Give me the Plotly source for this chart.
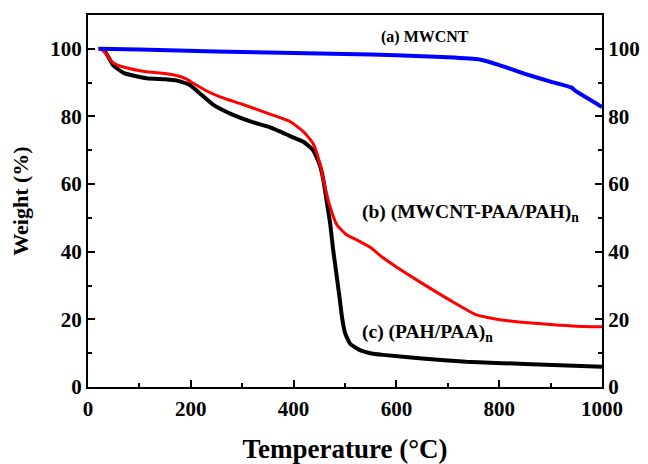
import plotly.graph_objects as go

# (a) MWCNT
temp_a = [20, 100, 250, 400, 500, 600, 700, 760, 800, 850, 900, 940, 950, 1000]
wt_a = [100, 99.8, 99.2, 98.8, 98.5, 98.1, 97.5, 96.9, 95.2, 92.6, 90.3, 88.6, 87.4, 82.8]

# (b) (MWCNT-PAA/PAH)n
temp_b = [25, 35, 46, 60, 80, 114, 150, 172, 190, 205, 230, 257, 300, 354, 393, 419, 438,
          451, 461, 471, 484, 503, 520, 549, 574, 600, 640, 704, 756, 790, 834, 900, 950, 1000]
wt_b = [100, 98.6, 96.2, 95, 94.2, 93.2, 92.7, 92.1, 91.2, 89.8, 87.6, 85.8, 83.6, 80.7, 78.5, 75.5, 72,
        66.2, 59.2, 53.3, 48.0, 45, 43.7, 41.3, 38.2, 35.5, 31.6, 25.7, 21.3, 20.2, 19.3, 18.5, 18, 17.8]

# (c) (PAH/PAA)n
temp_c = [30, 40, 49, 70, 114, 150, 173, 198, 220, 244, 280, 320, 354, 373, 393, 419, 438, 451, 458,
          464, 471, 477, 484, 490, 494, 500, 510, 529, 549, 574, 650, 736, 850, 1000]
wt_c = [100, 97.5, 95.2, 92.8, 91.3, 91, 90.6, 89.3, 86.5, 83.4, 80.6, 78.3, 76.8, 75.6, 74.2, 72.5, 70, 65.6, 61.2,
        55.3, 48.5, 40.5, 32.6, 25.7, 20.8, 16, 12.8, 10.9, 10, 9.5, 8.4, 7.5, 6.8, 6]

x_ticks = [0, 200, 400, 600, 800, 1000]
y_ticks = [0, 20, 40, 60, 80, 100]

FONT = "Liberation Serif"

fig = go.Figure()
fig.add_trace(go.Scatter(x=temp_c, y=wt_c, mode="lines",
                         line=dict(color="black", width=4, shape="spline", smoothing=0.5),
                         name="(c) (PAH/PAA)n", showlegend=False))
fig.add_trace(go.Scatter(x=temp_b, y=wt_b, mode="lines",
                         line=dict(color="#ff0000", width=3, shape="spline", smoothing=0.5),
                         name="(b) (MWCNT-PAA/PAH)n", showlegend=False))
fig.add_trace(go.Scatter(x=temp_a, y=wt_a, mode="lines",
                         line=dict(color="#0000ff", width=4, shape="spline", smoothing=0.3),
                         name="(a) MWCNT", showlegend=False, yaxis="y2"))

axis_common = dict(showline=True, linecolor="black", linewidth=2, ticks="inside", ticklen=7,
                   tickwidth=2, tickcolor="black", showgrid=False, zeroline=False, automargin=False,
                   tickfont=dict(family=FONT, size=21, color="black", weight="bold"))

fig.update_layout(
    width=648, height=464,
    margin=dict(l=88, r=46, t=15, b=77),
    paper_bgcolor="white", plot_bgcolor="white",
    font=dict(family=FONT, color="black"),
    xaxis=dict(range=[0, 1000], tickvals=x_ticks, mirror=True, ticklabelstandoff=2,
               minor=dict(ticks="inside", ticklen=4, tickwidth=2, dtick=100, tickcolor="black"),
               title=dict(text="<b>Temperature (°C)</b>", font=dict(family=FONT, size=27), standoff=24),
               **axis_common),
    yaxis=dict(range=[0, 110], tickvals=y_ticks,
               minor=dict(ticks="inside", ticklen=4, tickwidth=2, dtick=10, tickcolor="black"),
               title=dict(text="<b>Weight (%)</b>", font=dict(family=FONT, size=22), standoff=16),
               **axis_common),
    yaxis2=dict(range=[0, 110], tickvals=y_ticks, overlaying="y", side="right",
                minor=dict(ticks="inside", ticklen=4, tickwidth=2, dtick=10, tickcolor="black"),
                **axis_common),
)

ann_font = dict(family=FONT, color="black")
fig.add_annotation(x=566, y=103.6, xref="x", yref="y", xanchor="left", yanchor="middle",
                   text="<b>(a) MWCNT</b>", showarrow=False, font=dict(size=16, **ann_font))
fig.add_annotation(x=530, y=51.4, xref="x", yref="y", xanchor="left", yanchor="middle",
                   text="<b>(b) (MWCNT-PAA/PAH)<sub>n</sub></b>", showarrow=False, font=dict(size=19.5, **ann_font))
fig.add_annotation(x=530, y=15.9, xref="x", yref="y", xanchor="left", yanchor="middle",
                   text="<b>(c) (PAH/PAA)<sub>n</sub></b>", showarrow=False, font=dict(size=19.5, **ann_font))

fig.write_html("out.html")
